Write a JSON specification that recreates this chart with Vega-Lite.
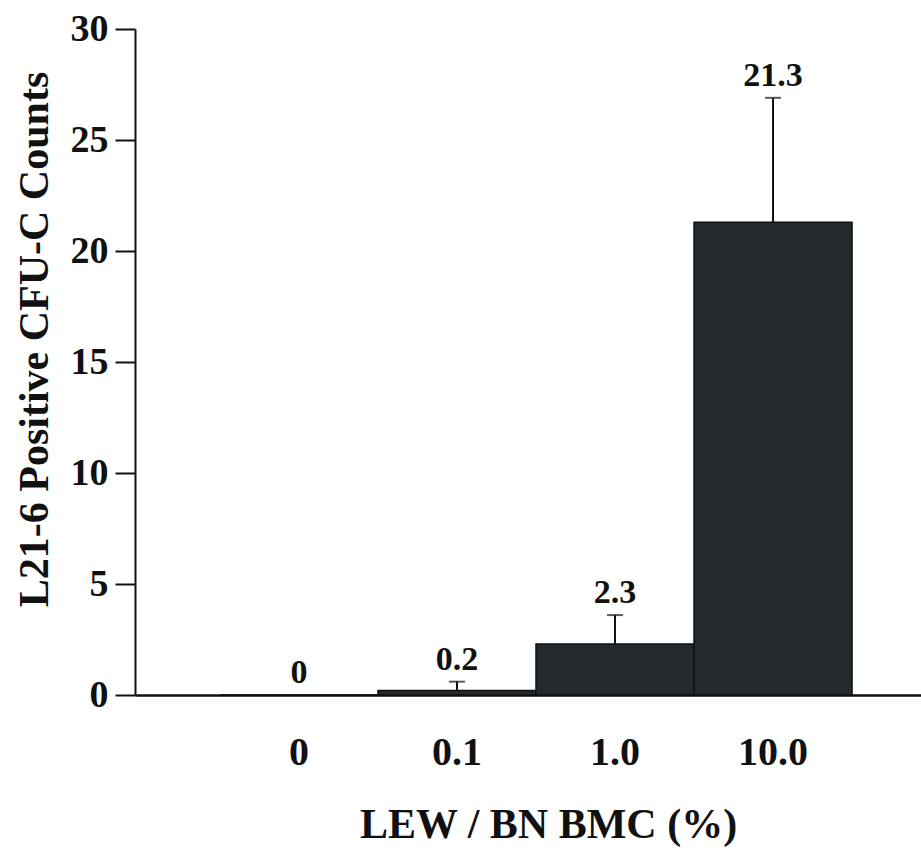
{
  "$schema": "https://vega.github.io/schema/vega-lite/v6.json",
  "autosize": {"type": "none"},
  "padding": {"left": 135, "top": 29, "right": 0, "bottom": 158},
  "width": 786,
  "height": 666,
  "background": "white",
  "config": {
    "view": {"stroke": null},
    "font": "Liberation Serif",
    "axis": {
      "labelFont": "Liberation Serif",
      "titleFont": "Liberation Serif",
      "labelFontWeight": "bold",
      "titleFontWeight": "bold",
      "labelColor": "#111",
      "titleColor": "#111",
      "domainColor": "#111",
      "tickColor": "#111",
      "grid": false
    }
  },
  "data": {
    "values": [
      {"dose": "0", "count": 0, "upper": 0},
      {"dose": "0.1", "count": 0.2, "upper": 0.6},
      {"dose": "1.0", "count": 2.3, "upper": 3.6},
      {"dose": "10.0", "count": 21.3, "upper": 26.9}
    ]
  },
  "encoding": {
    "x": {
      "field": "dose",
      "type": "nominal",
      "sort": null,
      "scale": {"paddingInner": 0, "paddingOuter": 0.487, "align": 0.552},
      "axis": {
        "title": "LEW / BN BMC (%)",
        "titleFontSize": 42,
        "titleX": 413,
        "titleY": 142,
        "titleBaseline": "alphabetic",
        "labelFontSize": 40,
        "labelAngle": 0,
        "labelPadding": 37,
        "ticks": false,
        "domainWidth": 2.5
      }
    }
  },
  "layer": [
    {
      "mark": {"type": "bar", "color": "#23292c", "stroke": "#111", "strokeWidth": 1.5},
      "encoding": {
        "y": {
          "field": "count",
          "type": "quantitative",
          "scale": {"domain": [0, 30], "nice": false},
          "axis": {
            "title": "L21-6 Positive CFU-C Counts",
            "titleFontSize": 42,
            "titleX": -88,
            "titleY": 310,
            "titleBaseline": "alphabetic",
            "titleAngle": -90,
            "values": [0, 5, 10, 15, 20, 25, 30],
            "labelFontSize": 38,
            "labelPadding": 7,
            "tickSize": 20,
            "tickWidth": 2,
            "domainWidth": 2
          }
        }
      }
    },
    {
      "transform": [{"filter": "datum.upper > datum.count"}],
      "mark": {"type": "rule", "color": "#111", "strokeWidth": 2},
      "encoding": {
        "y": {"field": "count", "type": "quantitative"},
        "y2": {"field": "upper"}
      }
    },
    {
      "transform": [{"filter": "datum.upper > datum.count"}],
      "mark": {"type": "tick", "color": "#111", "size": 16, "thickness": 2},
      "encoding": {
        "y": {"field": "upper", "type": "quantitative"}
      }
    },
    {
      "mark": {"type": "text", "baseline": "alphabetic", "dy": -12, "fontSize": 34, "fontWeight": "bold", "font": "Liberation Serif", "color": "#111"},
      "encoding": {
        "y": {"field": "upper", "type": "quantitative"},
        "text": {"field": "count", "type": "quantitative", "format": ".1~f"}
      }
    }
  ]
}
